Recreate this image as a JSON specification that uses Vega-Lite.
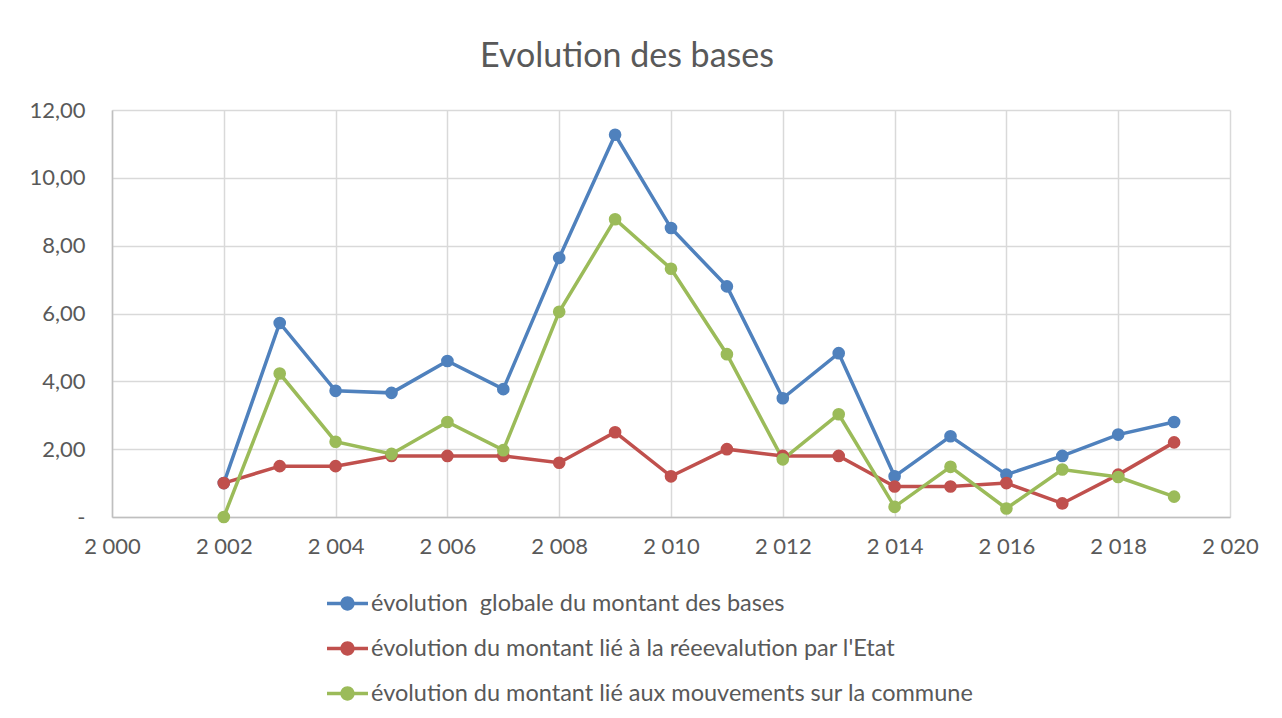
{
  "$schema": "https://vega.github.io/schema/vega-lite/v6.json",
  "width": 1118,
  "height": 407,
  "autosize": {"type": "none"},
  "padding": {"left": 112, "top": 110, "right": 52, "bottom": 201},
  "background": "white",
  "title": {
    "text": "Evolution des bases",
    "font": "Lato",
    "fontSize": 34,
    "fontWeight": "normal",
    "color": "#595959",
    "anchor": "middle",
    "dx": -44,
    "offset": 25
  },
  "data": {
    "values": [
      {"year": 2002, "series": "évolution  globale du montant des bases", "value": 1.0},
      {"year": 2003, "series": "évolution  globale du montant des bases", "value": 5.72},
      {"year": 2004, "series": "évolution  globale du montant des bases", "value": 3.72},
      {"year": 2005, "series": "évolution  globale du montant des bases", "value": 3.66},
      {"year": 2006, "series": "évolution  globale du montant des bases", "value": 4.6},
      {"year": 2007, "series": "évolution  globale du montant des bases", "value": 3.77},
      {"year": 2008, "series": "évolution  globale du montant des bases", "value": 7.64},
      {"year": 2009, "series": "évolution  globale du montant des bases", "value": 11.27},
      {"year": 2010, "series": "évolution  globale du montant des bases", "value": 8.52},
      {"year": 2011, "series": "évolution  globale du montant des bases", "value": 6.8},
      {"year": 2012, "series": "évolution  globale du montant des bases", "value": 3.5},
      {"year": 2013, "series": "évolution  globale du montant des bases", "value": 4.83},
      {"year": 2014, "series": "évolution  globale du montant des bases", "value": 1.2},
      {"year": 2015, "series": "évolution  globale du montant des bases", "value": 2.38},
      {"year": 2016, "series": "évolution  globale du montant des bases", "value": 1.25},
      {"year": 2017, "series": "évolution  globale du montant des bases", "value": 1.8},
      {"year": 2018, "series": "évolution  globale du montant des bases", "value": 2.43},
      {"year": 2019, "series": "évolution  globale du montant des bases", "value": 2.8},
      {"year": 2002, "series": "évolution du montant lié à la réeevalution par l'Etat", "value": 1.0},
      {"year": 2003, "series": "évolution du montant lié à la réeevalution par l'Etat", "value": 1.5},
      {"year": 2004, "series": "évolution du montant lié à la réeevalution par l'Etat", "value": 1.5},
      {"year": 2005, "series": "évolution du montant lié à la réeevalution par l'Etat", "value": 1.8},
      {"year": 2006, "series": "évolution du montant lié à la réeevalution par l'Etat", "value": 1.8},
      {"year": 2007, "series": "évolution du montant lié à la réeevalution par l'Etat", "value": 1.8},
      {"year": 2008, "series": "évolution du montant lié à la réeevalution par l'Etat", "value": 1.6},
      {"year": 2009, "series": "évolution du montant lié à la réeevalution par l'Etat", "value": 2.5},
      {"year": 2010, "series": "évolution du montant lié à la réeevalution par l'Etat", "value": 1.2},
      {"year": 2011, "series": "évolution du montant lié à la réeevalution par l'Etat", "value": 2.0},
      {"year": 2012, "series": "évolution du montant lié à la réeevalution par l'Etat", "value": 1.8},
      {"year": 2013, "series": "évolution du montant lié à la réeevalution par l'Etat", "value": 1.8},
      {"year": 2014, "series": "évolution du montant lié à la réeevalution par l'Etat", "value": 0.9},
      {"year": 2015, "series": "évolution du montant lié à la réeevalution par l'Etat", "value": 0.9},
      {"year": 2016, "series": "évolution du montant lié à la réeevalution par l'Etat", "value": 1.0},
      {"year": 2017, "series": "évolution du montant lié à la réeevalution par l'Etat", "value": 0.4},
      {"year": 2018, "series": "évolution du montant lié à la réeevalution par l'Etat", "value": 1.25},
      {"year": 2019, "series": "évolution du montant lié à la réeevalution par l'Etat", "value": 2.2},
      {"year": 2002, "series": "évolution du montant lié aux mouvements sur la commune", "value": 0.0},
      {"year": 2003, "series": "évolution du montant lié aux mouvements sur la commune", "value": 4.23},
      {"year": 2004, "series": "évolution du montant lié aux mouvements sur la commune", "value": 2.22},
      {"year": 2005, "series": "évolution du montant lié aux mouvements sur la commune", "value": 1.86},
      {"year": 2006, "series": "évolution du montant lié aux mouvements sur la commune", "value": 2.8},
      {"year": 2007, "series": "évolution du montant lié aux mouvements sur la commune", "value": 1.97},
      {"year": 2008, "series": "évolution du montant lié aux mouvements sur la commune", "value": 6.05},
      {"year": 2009, "series": "évolution du montant lié aux mouvements sur la commune", "value": 8.78},
      {"year": 2010, "series": "évolution du montant lié aux mouvements sur la commune", "value": 7.32},
      {"year": 2011, "series": "évolution du montant lié aux mouvements sur la commune", "value": 4.8},
      {"year": 2012, "series": "évolution du montant lié aux mouvements sur la commune", "value": 1.7},
      {"year": 2013, "series": "évolution du montant lié aux mouvements sur la commune", "value": 3.03},
      {"year": 2014, "series": "évolution du montant lié aux mouvements sur la commune", "value": 0.3},
      {"year": 2015, "series": "évolution du montant lié aux mouvements sur la commune", "value": 1.48},
      {"year": 2016, "series": "évolution du montant lié aux mouvements sur la commune", "value": 0.25},
      {"year": 2017, "series": "évolution du montant lié aux mouvements sur la commune", "value": 1.4},
      {"year": 2018, "series": "évolution du montant lié aux mouvements sur la commune", "value": 1.18},
      {"year": 2019, "series": "évolution du montant lié aux mouvements sur la commune", "value": 0.6}
    ]
  },
  "mark": {
    "type": "line",
    "strokeWidth": 3.5,
    "point": {"filled": true, "size": 160, "opacity": 1}
  },
  "encoding": {
    "x": {
      "field": "year",
      "type": "quantitative",
      "scale": {"domain": [2000, 2020], "nice": false, "zero": false},
      "axis": {
        "title": null,
        "values": [2000, 2002, 2004, 2006, 2008, 2010, 2012, 2014, 2016, 2018, 2020],
        "labelExpr": "replace(format(datum.value, ','), ',', ' ')",
        "labelFont": "Lato",
        "labelFontSize": 22,
        "labelColor": "#595959",
        "labelPadding": 19,
        "ticks": false,
        "domainColor": "#bfbfbf",
        "domainWidth": 1.5,
        "gridColor": "#d9d9d9",
        "gridWidth": 1.5,
        "labelFlush": false
      }
    },
    "y": {
      "field": "value",
      "type": "quantitative",
      "scale": {"domain": [0, 12], "nice": false},
      "axis": {
        "title": null,
        "values": [0, 2, 4, 6, 8, 10, 12],
        "labelExpr": "datum.value == 0 ? '-' : replace(format(datum.value, '.2f'), '.', ',')",
        "labelFont": "Lato",
        "labelFontSize": 22,
        "labelColor": "#595959",
        "labelPadding": 27,
        "ticks": false,
        "domainColor": "#bfbfbf",
        "domainWidth": 1.5,
        "gridColor": "#d9d9d9",
        "gridWidth": 1.5
      }
    },
    "color": {
      "field": "series",
      "type": "nominal",
      "scale": {
        "domain": [
          "évolution  globale du montant des bases",
          "évolution du montant lié à la réeevalution par l'Etat",
          "évolution du montant lié aux mouvements sur la commune"
        ],
        "range": ["#4F81BD", "#C0504D", "#9BBB59"]
      },
      "legend": {
        "title": null,
        "orient": "none",
        "legendX": 215,
        "legendY": 473,
        "direction": "vertical",
        "labelExpr": "replace(datum.label, '  ', '\u00a0\u00a0')",
        "symbolType": "M -1 -0.08 L 1 -0.08 L 1 0.08 L -1 0.08 Z M 0.35 0 A 0.35 0.35 0 1 1 -0.35 0 A 0.35 0.35 0 1 1 0.35 0 Z",
        "symbolSize": 1680,
        "symbolStrokeWidth": 0,
        "symbolOpacity": 1,
        "labelFont": "Lato",
        "labelFontSize": 23.5,
        "labelColor": "#595959",
        "labelOffset": 3,
        "labelLimit": 800,
        "rowPadding": 13
      }
    },
    "order": {"field": "year"}
  },
  "config": {
    "view": {"stroke": null}
  }
}
